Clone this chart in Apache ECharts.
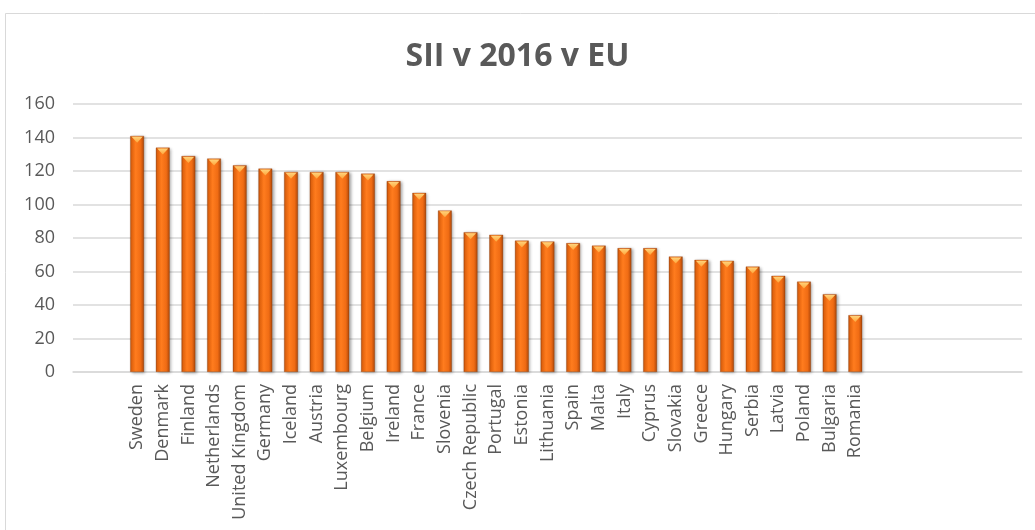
<!DOCTYPE html>
<html>
<head>
<meta charset="utf-8">
<title>SII v 2016 v EU</title>
<script src="https://cdn.jsdelivr.net/npm/echarts@6/dist/echarts.min.js"></script>
<style>
  html, body { margin: 0; padding: 0; background: #ffffff; }
  #chart { width: 1035px; height: 530px; }
</style>
</head>
<body>
<div id="chart"></div>
<script>
// Summary Innovation Index 2016, by country
const countries = [
  'Sweden', 'Denmark', 'Finland', 'Netherlands', 'United Kingdom', 'Germany',
  'Iceland', 'Austria', 'Luxembourg', 'Belgium', 'Ireland', 'France', 'Slovenia',
  'Czech Republic', 'Portugal', 'Estonia', 'Lithuania', 'Spain', 'Malta', 'Italy',
  'Cyprus', 'Slovakia', 'Greece', 'Hungary', 'Serbia', 'Latvia', 'Poland',
  'Bulgaria', 'Romania'
];
const sii2016 = [
  141, 134, 129, 127.5, 123.5, 121.5,
  119.5, 119.5, 119.5, 118.5, 114, 107, 96.5,
  83.5, 82, 78.5, 78, 77, 75.5, 74,
  74, 69, 67, 66.5, 63, 57.5, 54,
  46.5, 34
];
const yTicks = [0, 20, 40, 60, 80, 100, 120, 140, 160];

// empty category slots on both sides of the country list
const leadingSlots = 2;
const trailingSlots = 6;
const pad = (n, v) => Array(n).fill(v);
const axisCategories = pad(leadingSlots, '').concat(countries, pad(trailingSlots, ' '));
const axisValues = pad(leadingSlots, null).concat(sii2016, pad(trailingSlots, null));

const textColor = '#595959';
const gridColor = '#d9d9d9';
const labelFont = '"Open Sans", "Noto Sans", sans-serif';

const barFill = new echarts.graphic.LinearGradient(0, 0, 1, 0, [
  { offset: 0, color: '#a9480c' },
  { offset: 0.12, color: '#e8660f' },
  { offset: 0.4, color: '#ff7c1e' },
  { offset: 0.75, color: '#f06c14' },
  { offset: 0.9, color: '#c9560e' },
  { offset: 1, color: '#9c420b' }
]);
const capFill = new echarts.graphic.LinearGradient(0, 0, 0, 1, [
  { offset: 0, color: '#ffd27a' },
  { offset: 1, color: '#ffa53a' }
]);

const chart = echarts.init(document.getElementById('chart'), null, { renderer: 'canvas' });
chart.setOption({
  backgroundColor: '#ffffff',
  animation: false,
  title: {
    text: 'SII v 2016 v EU',
    left: 'center',
    top: 36,
    textStyle: {
      fontFamily: labelFont,
      fontWeight: 'bold',
      fontSize: 32,
      color: textColor
    }
  },
  graphic: [{
    type: 'rect',
    left: 3,
    top: 11,
    shape: { width: 1040, height: 540 },
    style: { fill: 'none', stroke: '#d9d9d9', lineWidth: 1 },
    silent: true
  }],
  grid: { left: 73, right: 13, top: 104, bottom: 158, containLabel: false },
  xAxis: {
    type: 'category',
    data: axisCategories,
    axisLine: { show: true, lineStyle: { color: gridColor, width: 1.5 } },
    axisTick: { show: false },
    axisLabel: {
      interval: 0,
      rotate: 90,
      margin: 12,
      color: textColor,
      fontFamily: labelFont,
      fontSize: 18
    }
  },
  yAxis: {
    type: 'value',
    min: yTicks[0],
    max: yTicks[yTicks.length - 1],
    interval: yTicks[1] - yTicks[0],
    axisLine: { show: false },
    axisTick: { show: false },
    axisLabel: {
      margin: 18,
      color: textColor,
      fontFamily: labelFont,
      fontSize: 18
    },
    splitLine: { lineStyle: { color: gridColor, width: 1.5 } }
  },
  series: [
    {
      name: 'SII 2016',
      type: 'bar',
      data: axisValues,
      barWidth: 14,
      itemStyle: {
        color: barFill,
        borderColor: 'rgba(150,64,10,0.55)',
        borderWidth: 0.6,
        shadowColor: 'rgba(0,0,0,0.35)',
        shadowBlur: 3,
        shadowOffsetX: 1.5,
        shadowOffsetY: 1
      }
    },
    {
      // bevel highlight at the top of each bar
      name: 'SII 2016 cap',
      type: 'scatter',
      data: axisValues,
      symbol: 'path://M0,0 L10,0 L5,6 Z',
      symbolSize: [11, 6],
      symbolOffset: [0, 4],
      silent: true,
      itemStyle: { color: capFill, opacity: 1 },
      z: 3
    }
  ]
});
</script>
</body>
</html>
